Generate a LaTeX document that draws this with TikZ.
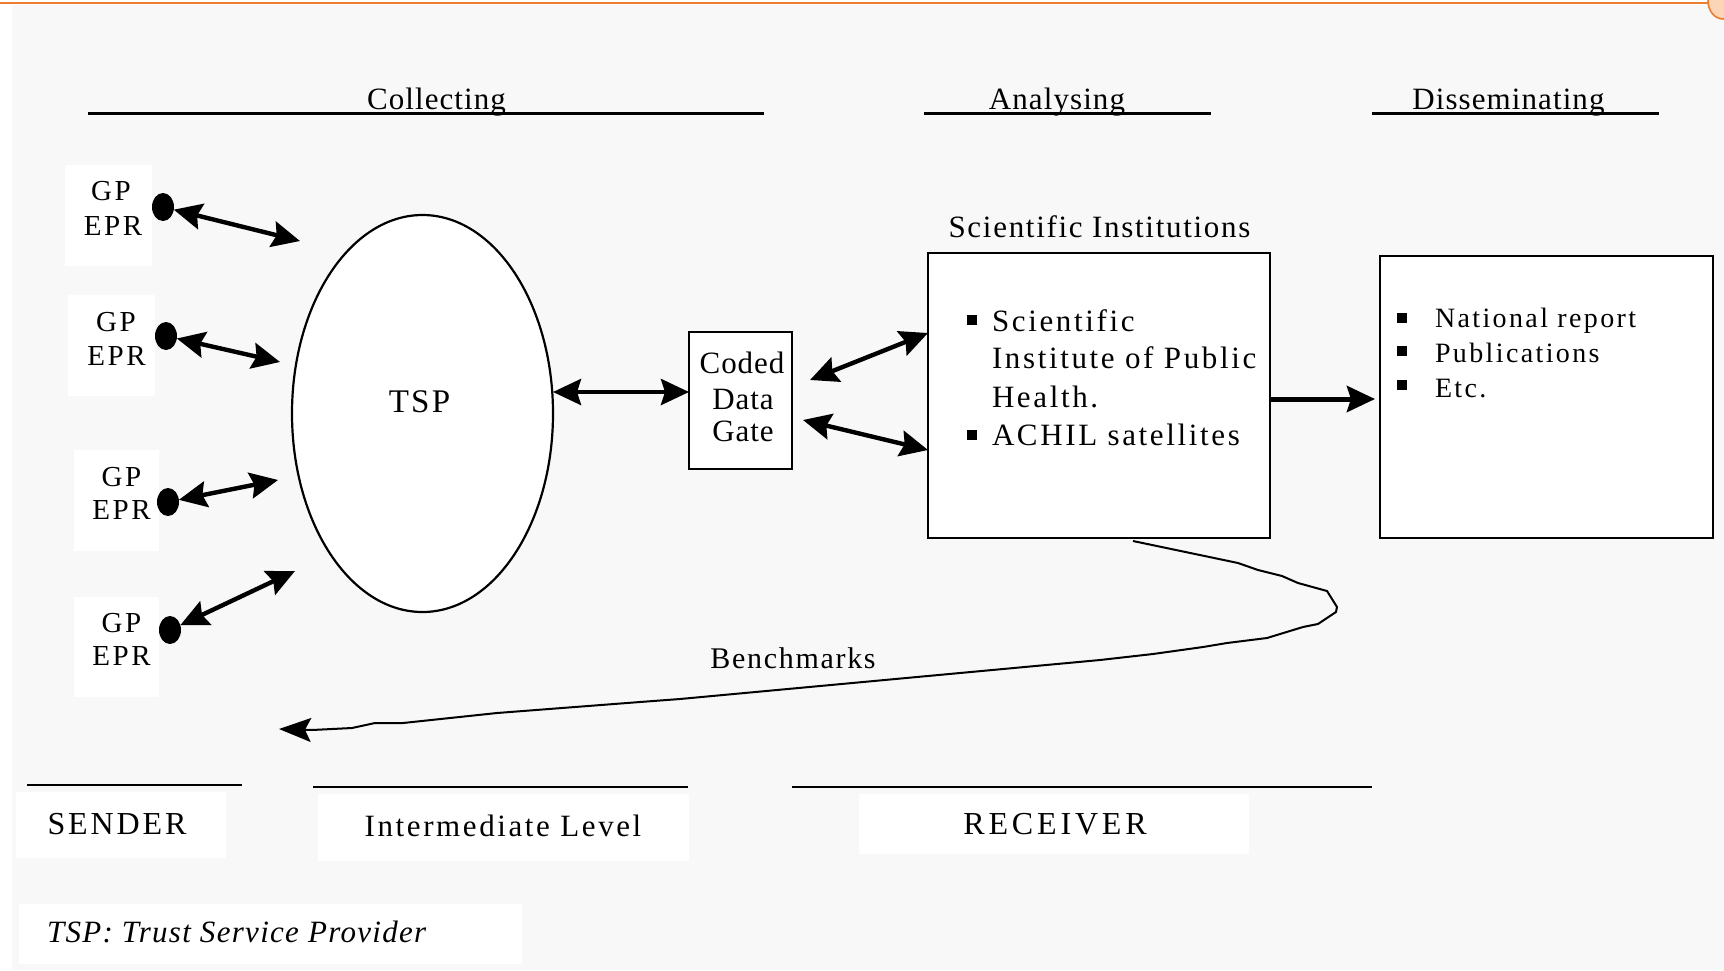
\documentclass[tikz,border=0pt]{standalone}
\usepackage{fontspec}
\setmainfont{Liberation Serif}
\usetikzlibrary{arrows.meta,shapes.geometric}
\definecolor{bggray}{RGB}{248,248,248}
\definecolor{orangeline}{RGB}{237,125,49}
\definecolor{peach}{RGB}{251,213,181}
\newcommand{\txs}[2]{\fontsize{#1}{#1}\selectfont\addfontfeatures{LetterSpace=#2}}
\begin{document}
\begin{tikzpicture}[x=0.5pt,y=-0.5pt,
  lbl/.style={inner sep=0pt,outer sep=0pt,anchor=base},
  lblw/.style={inner sep=0pt,outer sep=0pt,anchor=base west},
  wbox/.style={fill=white,draw=none,inner sep=0pt,outer sep=0pt},
  framebox/.style={fill=white,draw=black,line width=1pt,inner sep=0pt,outer sep=0pt},
  dotn/.style={ellipse,fill=black,minimum width=11pt,minimum height=14pt,inner sep=0pt,outer sep=0pt},
  dbl/.style={line width=2.2pt,{Stealth[length=14pt,width=13pt,inset=2pt]}-{Stealth[length=14pt,width=13pt,inset=2pt]}},
  single/.style={line width=2.5pt,-{Stealth[length=14pt,width=13pt,inset=2pt]}},
  bench/.style={line width=1pt,line join=round,-{Stealth[length=16pt,width=12pt,inset=3pt]}},
  hline/.style={line width=1.2pt},
  bul/.style={fill=black}
]
\useasboundingbox (0,0) rectangle (1724,970);
\fill[white] (0,0) rectangle (1724,970);
\fill[bggray] (12,5) rectangle (1724,970);
\draw[orangeline,line width=1.2pt] (0,2.8) -- (1712,2.8);
\draw[orangeline,fill=peach,line width=0.8pt] (1723,1) ellipse [x radius=7.5pt,y radius=9pt];

% headings
\node[lbl] (hcol) at (436.5,109) {\txs{15.5pt}{3.5}Collecting};
\node[lbl] (hana) at (1057,109) {\txs{15.5pt}{3.5}Analysing};
\node[lbl] (hdis) at (1508.5,109) {\txs{15.5pt}{3.5}Disseminating};
\draw[hline] (88,113.5) -- (764,113.5);
\draw[hline] (924,113.5) -- (1211,113.5);
\draw[hline] (1372,113.5) -- (1659,113.5);

% GP EPR boxes
\node[wbox,minimum width=43.5pt,minimum height=50.5pt] (g1) at (108.5,215.5) {};
\node[wbox,minimum width=43.5pt,minimum height=50.5pt] (g2) at (111.5,345.5) {};
\node[wbox,minimum width=42.5pt,minimum height=50.5pt] (g3) at (116.5,500.5) {};
\node[wbox,minimum width=42.5pt,minimum height=50pt] (g4) at (116.5,647) {};
\node[lbl] (g1a) at (111,200) {\txs{14.5pt}{9}GP};
\node[lbl] (g1b) at (113,235) {\txs{14.5pt}{9}EPR};
\node[lbl] (g2a) at (116,331) {\txs{14.5pt}{9}GP};
\node[lbl] (g2b) at (116.5,365) {\txs{14.5pt}{9}EPR};
\node[lbl] (g3a) at (121.5,486) {\txs{14.5pt}{9}GP};
\node[lbl] (g3b) at (121.5,519) {\txs{14.5pt}{9}EPR};
\node[lbl] (g4a) at (121.5,632) {\txs{14.5pt}{9}GP};
\node[lbl] (g4b) at (121.5,665) {\txs{14.5pt}{9}EPR};

% dots
\node[dotn] (d1) at (163,207) {};
\node[dotn] (d2) at (166,336) {};
\node[dotn] (d3) at (168,502) {};
\node[dotn] (d4) at (170,630) {};

% TSP
\node[ellipse,draw=black,fill=white,line width=1.1pt,minimum width=130.5pt,minimum height=198.5pt,inner sep=0pt] (tsp) at (422.5,413.5) {};
\node[lbl] (tspl) at (419.5,412) {\txs{16.5pt}{7}TSP};
\coordinate (t1) at (300,241);
\coordinate (t2) at (280,362);
\coordinate (t3) at (278,480);
\coordinate (t4) at (295,571);
\draw[dbl] (d1) -- (t1);
\draw[dbl] (d2) -- (t2);
\draw[dbl] (d3) -- (t3);
\draw[dbl] (d4) -- (t4);

% Coded data gate
\node[framebox,minimum width=51.5pt,minimum height=68.5pt] (cdg) at (740.5,400.5) {};
\node[lbl] (cdg1) at (742,373) {\txs{15.5pt}{3}Coded};
\node[lbl] (cdg2) at (743,409) {\txs{15.5pt}{3}Data};
\node[lbl] (cdg3) at (743,441) {\txs{15.5pt}{3}Gate};
\coordinate (tspR) at (553,392);
\draw[dbl] (tspR) -- (cdg.west |- tspR);

% Scientific institutions
\node[framebox,minimum width=171pt,minimum height=142.5pt] (si) at (1099,395.5) {};
\node[lbl] (sit) at (1099.5,237) {\txs{15.5pt}{5.5}Scientific Institutions};
\fill[bul] (967,315) rectangle (977,325);
\fill[bul] (967,430) rectangle (977,440);
\node[lblw] (si1) at (992,331) {\txs{15.5pt}{8.5}Scientific};
\node[lblw] (si2) at (992,368) {\txs{15.5pt}{8.5}Institute of Public};
\node[lblw] (si3) at (992,407) {\txs{15.5pt}{8.5}Health.};
\node[lblw] (si4) at (992,445) {\txs{15.5pt}{8.5}ACHIL satellites};
\coordinate (c1) at (810,380);
\coordinate (s1) at (928,333);
\coordinate (c2) at (803,420);
\coordinate (s2) at (928,450);
\draw[dbl] (c1) -- (s1);
\draw[dbl] (c2) -- (s2);

% right box
\node[framebox,minimum width=166.5pt,minimum height=141pt] (rb) at (1546.5,397) {};
\fill[bul] (1397,313) rectangle (1407,323);
\fill[bul] (1397,346) rectangle (1407,356);
\fill[bul] (1397,380) rectangle (1407,390);
\node[lblw] (rb1) at (1435,327) {\txs{14pt}{8.5}National report};
\node[lblw] (rb2) at (1435,362) {\txs{14pt}{8.5}Publications};
\node[lblw] (rb3) at (1435,397) {\txs{14pt}{8.5}Etc.};
\coordinate (sa) at (1270,399);
\coordinate (ra) at (1375,399);
\draw[single] (sa) -- (ra);

% Benchmarks
\coordinate (b0) at (1133,541);
\coordinate (b1) at (279,729);
\draw[bench] (b0) -- (1238,563) -- (1258,570) -- (1282,576) -- (1298,583) -- (1327,591) -- (1337,607) -- (1336,612) -- (1318,624) -- (1303,627) -- (1267,638) -- (1227,643) -- (1203,647) -- (1153,654) -- (1100,660) -- (680,699) -- (640,702) -- (497,713) -- (403,723) -- (375,723) -- (352,728) -- (312,730) -- (b1);
\node[lbl] (bml) at (793,668) {\txs{15pt}{5.7}Benchmarks};

% bottom
\draw[hline] (27,785) -- (242,785);
\draw[hline] (313,787) -- (688,787);
\draw[hline] (792,787) -- (1372,787);
\node[wbox,minimum width=105pt,minimum height=33pt] (sb) at (121,825) {};
\node[wbox,minimum width=185.5pt,minimum height=33.5pt] (ib) at (503.5,827.5) {};
\node[wbox,minimum width=195pt,minimum height=30pt] (rcb) at (1054,824) {};
\node[wbox,minimum width=251.5pt,minimum height=30pt] (fb) at (270.5,934) {};
\node[lbl] (sl) at (117,834) {\txs{16pt}{9}SENDER};
\node[lbl] (il) at (503,836) {\txs{15.5pt}{8.4}Intermediate Level};
\node[lbl] (rl) at (1055,834) {\txs{16pt}{12}RECEIVER};
\node[lblw] (fl) at (47,942) {\txs{15.5pt}{4.2}\itshape TSP: Trust Service Provider};
\end{tikzpicture}
\end{document}
